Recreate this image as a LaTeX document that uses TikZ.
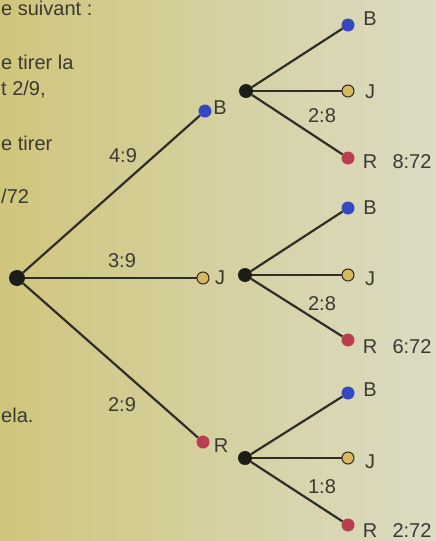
\documentclass[tikz,border=0pt]{standalone}
\usepackage{fontspec}
\setmainfont{Liberation Sans}
\definecolor{bgL}{HTML}{CFC67C}
\definecolor{bgR}{HTML}{DCDBC4}
\definecolor{ink}{HTML}{2E2E26}
\definecolor{txtc}{HTML}{3A3A32}
\definecolor{dotB}{HTML}{3448C0}
\definecolor{dotJ}{HTML}{D9B95E}
\definecolor{dotR}{HTML}{B8404E}
\definecolor{dotK}{HTML}{1C1C18}
\begin{document}
\begin{tikzpicture}[x=1pt,y=-1pt,
  txt/.style={font=\fontsize{20}{22}\selectfont, text=txtc, inner sep=0pt},
  blk/.style={circle, fill=dotK, inner sep=0pt, minimum size=14pt},
  bdot/.style={circle, fill=dotB, inner sep=0pt, minimum size=13pt},
  jdot/.style={circle, fill=dotJ, draw=ink, line width=1pt, inner sep=0pt, minimum size=12pt},
  rdot/.style={circle, fill=dotR, inner sep=0pt, minimum size=13pt},
  edge/.style={draw=ink, line width=2.2pt}]
\shade[left color=bgL, right color=bgR] (0,0) rectangle (436,541);
\useasboundingbox (0,0) rectangle (436,541);
% side text fragments
\node[txt, anchor=base west] (t1) at (1,15) {e suivant :};
\node[txt, anchor=base west] (t2) at (1,69) {e tirer la};
\node[txt, anchor=base west] (t3) at (1,95) {t 2/9,};
\node[txt, anchor=base west] (t4) at (1,150) {e tirer};
\node[txt, anchor=base west] (t5) at (1,203) {/72};
\node[txt, anchor=base west] (t6) at (1,422) {ela.};
% level 0
\node[blk, minimum size=16pt] (root) at (17,278) {};
% level 1
\node[bdot] (B1) at (205,111) {};
\node[jdot] (J1) at (203,278) {};
\node[rdot] (R1) at (203,442) {};
% level 2 hubs
\node[blk] (HB) at (246,91) {};
\node[blk] (HJ) at (245,275) {};
\node[blk] (HR) at (245,458) {};
% leaves
\node[bdot] (BB) at (348,25) {};
\node[jdot] (BJ) at (348,91) {};
\node[rdot] (BR) at (348,158) {};
\node[bdot] (JB) at (348,208) {};
\node[jdot] (JJ) at (348,275) {};
\node[rdot] (JR) at (348,340) {};
\node[bdot] (RB) at (348,393) {};
\node[jdot] (RJ) at (348,458) {};
\node[rdot] (RR) at (348,525) {};
% connectors
\draw[edge] (root) -- (B1);
\draw[edge] (root) -- (J1);
\draw[edge] (root) -- (R1);
\foreach \h/\a/\b/\c in {HB/BB/BJ/BR, HJ/JB/JJ/JR, HR/RB/RJ/RR}{
  \draw[edge] (\h) -- (\a);
  \draw[edge] (\h) -- (\b);
  \draw[edge] (\h) -- (\c);
}
% labels
\node[txt] (l49) at (123,156) {4:9};
\node[txt] (l39) at (122,261) {3:9};
\node[txt] (l29) at (122,405) {2:9};
\node[txt] (lB1) at (220,108) {B};
\node[txt] (lJ1) at (220,278) {J};
\node[txt] (lR1) at (221,446) {R};
\node[txt] (l28a) at (322,116) {2:8};
\node[txt] (l28b) at (322,304) {2:8};
\node[txt] (l18) at (322,487) {1:8};
\node[txt] (lBB) at (370,19) {B};
\node[txt] (lBJ) at (370,92) {J};
\node[txt] (lBR) at (370,162) {R};
\node[txt] (pB) at (412,162) {8:72};
\node[txt] (lJB) at (370,208) {B};
\node[txt] (lJJ) at (370,279) {J};
\node[txt] (lJR) at (370,347) {R};
\node[txt] (pJ) at (412,347) {6:72};
\node[txt] (lRB) at (370,390) {B};
\node[txt] (lRJ) at (370,462) {J};
\node[txt] (lRR) at (370,531) {R};
\node[txt] (pR) at (412,531) {2:72};
\end{tikzpicture}
\end{document}
